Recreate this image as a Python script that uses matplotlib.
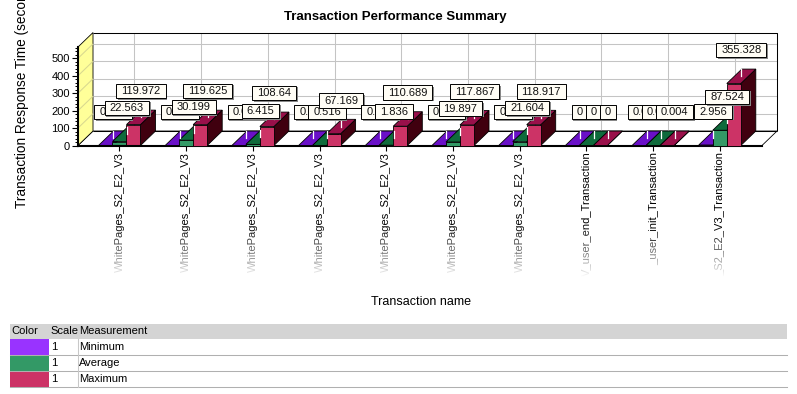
"""Transaction performance summary, 3D-look bar chart with value boxes."""
import numpy as np
import matplotlib
matplotlib.use("Agg")
import matplotlib.pyplot as plt
from matplotlib.patches import Polygon, Rectangle
from matplotlib.ticker import MultipleLocator

plt.rcParams['font.family'] = ['Liberation Sans', 'DejaVu Sans']

# --- Data ---
names = ["WhitePages_S2_E2_V3"] * 7 + ["V_user_end_Transaction", "_user_init_Transaction",
                                       "_S2_E2_V3_Transaction"]
min_vals = [0.015, 0.021, 0.012, 0.009, 0.011, 0.018, 0.016, 0, 0.001, 2.956]
avg_vals = [22.563, 30.199, 6.415, 0.516, 1.836, 19.897, 21.604, 0, 0.002, 87.524]
max_vals = [119.972, 119.625, 108.64, 67.169, 110.689, 117.867, 118.917, 0, 0.004, 355.328]
min_txt = ["0.015", "0.021", "0.012", "0.009", "0.011", "0.018", "0.016", "0", "0.001", "2.956"]
avg_txt = ["22.563", "30.199", "6.415", "0.516", "1.836", "19.897", "21.604", "0", "0.002", "87.524"]
max_txt = ["119.972", "119.625", "108.64", "67.169", "110.689", "117.867", "118.917", "0", "0.004", "355.328"]
y_ticks = [0, 100, 200, 300, 400, 500]
legend_names = ["Minimum", "Average", "Maximum"]

# --- Look ---
W, H = 797, 394
YMAX = 565
BAR_W = 0.21     # category units
DX = 0.225       # depth offset in category units (15 px)
DY = 83.0        # depth offset in value units (14.5 px)
# front, top, side
FACES = [("#9933ff", "#6a10c8", "#4a0a80"),
         ("#339966", "#0f6b3c", "#0a4a28"),
         ("#cc3366", "#99104a", "#40000f")]

fig = plt.figure(figsize=(W / 100, H / 100), dpi=100, facecolor="white")
ax = fig.add_axes([78 / W, 1 - 145.5 / H, 684 / W, 98.5 / H])
ax.set_xlim(-0.622, 9.633)
ax.set_ylim(0, YMAX)
ax.patch.set_alpha(0)
for s in ("top", "right"):
    ax.spines[s].set_visible(False)
ax.spines["left"].set_linewidth(1.5)
ax.spines["bottom"].set_linewidth(1.5)


def poly(pts, fc, ec="black", lw=0.6, z=2):
    ax.add_patch(Polygon(pts, closed=True, fc=fc, ec=ec, lw=lw, zorder=z, clip_on=False))


def glines(xs, ys, color="#c4c4c4", lw=0.75, z=1):
    ax.plot(xs, ys, color=color, lw=lw, zorder=z, clip_on=False, solid_capstyle="butt")


xl, xr = ax.get_xlim()

# walls and floor
poly([(xl, 0), (xl + DX, DY), (xr + DX, DY), (xr, 0)], "white", z=0.5)
poly([(xl, 0), (xl + DX, DY), (xl + DX, DY + YMAX), (xl, YMAX)], "#ffff99", z=0.5)
for v in y_ticks[1:]:
    glines([xl + DX, xr + DX], [v + DY, v + DY])
    glines([xl, xl + DX], [v, v + DY], color="#d8d890")
for i in range(len(names)):
    glines([i + DX, i + DX], [DY, DY + YMAX])
glines([xl + DX, xr + DX, xr + DX], [DY + YMAX, DY + YMAX, DY], color="black", z=1.2)
glines([xl + DX, xr + DX], [DY, DY], color="black", z=1.2)

# bars, drawn left to right so each front hides its neighbour's side
series = [min_vals, avg_vals, max_vals]
for i in range(len(names)):
    for j, vals in enumerate(series):
        v = vals[i]
        x0 = i + (j - 1.5) * BAR_W
        x1 = x0 + BAR_W
        front, top, side = FACES[j]
        z = 2 + i + 0.1 * j
        poly([(x1, 0), (x1 + DX, DY), (x1 + DX, v + DY), (x1, v)], side, z=z)
        poly([(x0, v), (x1, v), (x1 + DX, v + DY), (x0 + DX, v + DY)], top, z=z)
        if v > 1:
            poly([(x0, 0), (x1, 0), (x1, v), (x0, v)], front, z=z)

# axes
ax.set_yticks(y_ticks)
ax.yaxis.set_minor_locator(MultipleLocator(20))
ax.tick_params(axis="y", which="major", length=4, width=0.8, labelsize=8, pad=2)
ax.tick_params(axis="y", which="minor", length=2, width=0.7)
ax.set_xticks(range(len(names)))
ax.set_xticklabels(names, rotation=90, fontsize=8)
ax.tick_params(axis="x", length=3.5, width=0.8, pad=1)

# overlay in pixel coords for labels, fade and legend table
ov = fig.add_axes([0, 0, 1, 1])
ov.patch.set_alpha(0)
ov.axis("off")

# tick label fade
fade = np.ones((60, 2, 4))
fade[:, :, 3] = np.linspace(0, 1, 60)[:, None] ** 1.2
ov.imshow(fade, extent=(60, 780, 277, 222), aspect="auto", zorder=1, origin="upper")
ov.add_patch(Rectangle((60, 277), 720, 18, fc="white", ec="none", zorder=1))
ov.set_xlim(0, W)
ov.set_ylim(H, 0)

fig.canvas.draw()
renderer = fig.canvas.get_renderer()
z = 5
for i in range(len(names)):
    for j, (vals, txts) in enumerate(zip(series, (min_txt, avg_txt, max_txt))):
        x0 = i + (j - 1.5) * BAR_W
        anchor = ax.transData.transform((x0 + BAR_W / 2 + DX / 2, vals[i] + DY / 2))
        px, py = ov.transData.inverted().transform(anchor)
        ov.plot([px, px], [py, py - 7], color="white", lw=0.9, zorder=2)
        t = ov.text(px, py - 26, txts[i], ha="center", va="center", fontsize=8,
                    color="#111111", zorder=z + 2)
        tw = t.get_window_extent(renderer).width + 10
        ov.add_patch(Rectangle((px - tw / 2 + 1.5, py - 33.5 + 1.5), tw, 14.5, fc="#888888",
                               ec="none", zorder=z))
        ov.add_patch(Rectangle((px - tw / 2, py - 33.5), tw, 14.5, fc="#fffdf5", ec="black",
                               lw=0.7, zorder=z + 1))
        z += 3

# titles
ov.text(395, 17, "Transaction Performance Summary", ha="center", va="center",
        fontsize=9.5, fontweight="bold")
ov.text(421, 302, "Transaction name", ha="center", va="center", fontsize=9)
ov.text(22, 208, "Transaction Response Time (seconds)", rotation=90, ha="center", va="bottom",
        fontsize=9.8, clip_on=True)

# legend table
ov.add_patch(Rectangle((10, 324), 777, 15, fc="#d4d4d4", ec="none", zorder=1))
ov.text(11, 331.5, "Color", va="center", fontsize=8, zorder=3)
ov.text(50, 331.5, "Scale", va="center", fontsize=8, zorder=3)
ov.text(79, 331.5, "Measurement", va="center", fontsize=8, zorder=3)
for k, name in enumerate(legend_names):
    top = 339 + 16 * k
    ov.add_patch(Rectangle((10, top), 39, 16, fc=FACES[k][0], ec="none", zorder=1))
    ov.plot([10, 787], [top + 16, top + 16], color="#b0b0b0", lw=0.75, zorder=2)
    ov.text(51, top + 8, "1", va="center", fontsize=8, zorder=3)
    ov.text(79, top + 8, name, va="center", fontsize=8, zorder=3)
ov.plot([78, 78], [339, 387], color="#c8c8c8", lw=0.75, zorder=2)

fig.savefig("out.png", dpi=100, facecolor="white")
